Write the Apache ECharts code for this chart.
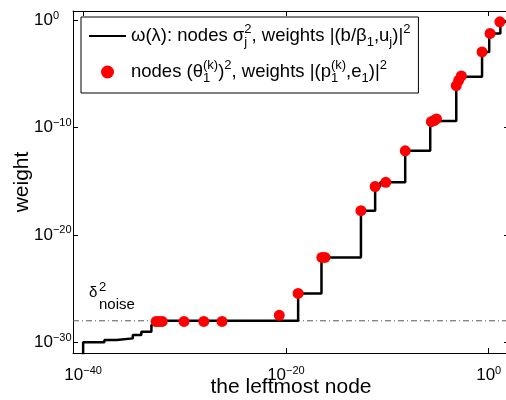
<!DOCTYPE html>
<html>
<head>
<meta charset="utf-8">
<script src="https://cdn.jsdelivr.net/npm/echarts@6/dist/echarts.min.js"></script>
<style>
  html, body { margin: 0; padding: 0; background: #fff; }
  #chart { width: 506px; height: 400px; }
</style>
</head>
<body>
<div id="chart"></div>
<script>
// omega(lambda): step function, nodes and cumulative weights
const stepNodes = [1e-40, 1e-40, 1.26e-38, 2.0e-37, 7.9e-36, 5.5e-35, 5.4e-34, 1.8e-33,
  1.6e-19, 3.2e-17, 2.5e-13, 6.3e-12, 2.0e-11, 5.8e-9, 1.7e-6, 6.3e-4, 0.22, 1.12, 14.1, 100];
const stepWeights = [1e-32, 1e-30, 1.6e-30, 2.3e-30, 4.7e-30, 9.5e-30, 4.0e-29, 1e-28,
  3.5e-26, 7.9e-23, 1.8e-18, 3.2e-16, 7.9e-16, 6.8e-13, 4.0e-10, 5.2e-6, 1.1e-3, 5.8e-2, 0.7, 0.7];

// Ritz nodes (theta_1^(k))^2 and their weights
const ritzNodes = [1.6e-33, 3.2e-33, 6.3e-33, 8.9e-31, 7.9e-29, 5.0e-27, 2.2e-21, 1.6e-19,
  3.5e-17, 7.1e-17, 2.5e-13, 6.3e-12, 7.1e-11, 5.8e-9, 2.2e-6, 4.0e-6, 7.1e-6,
  6.3e-4, 1.1e-3, 2.0e-3, 0.22, 1.35, 12.6];
const ritzWeights = [8.7e-29, 8.7e-29, 8.7e-29, 8.7e-29, 8.7e-29, 8.7e-29, 3.2e-28, 3.5e-26,
  7.9e-23, 7.9e-23, 1.8e-18, 3.2e-16, 7.9e-16, 6.8e-13, 3.5e-10, 4.5e-10, 6.3e-10,
  7.9e-7, 2.5e-6, 6.3e-6, 1.1e-3, 5.8e-2, 0.7];

// delta^2_noise level, drawn across the whole x range
const noiseLevel = 1e-28;
const xRange = [1e-41, 1e2];
const yRange = [1e-31, Math.pow(10, 0.85)];
const xTicks = [1e-40, 1e-20, 1];
const yTicks = [1e-30, 1e-20, 1e-10, 1];

const font = 'Liberation Sans';

function powLabel(v) {
  const e = Math.round(Math.log10(v));
  return '10{s|' + (e < 0 ? '\u2212' + (-e) : e) + '}';
}

const tickRich = {
  s: { fontSize: 11, fontFamily: font, color: '#000', verticalAlign: 'top', lineHeight: 11 }
};

const legendRich = {
  sup: { fontSize: 13, fontFamily: font, color: '#000', lineHeight: 12, verticalAlign: 'top' },
  sub: { fontSize: 13, fontFamily: font, color: '#000', lineHeight: 12, verticalAlign: 'bottom' },
  sub0: { fontSize: 13, fontFamily: font, color: '#000', lineHeight: 12, verticalAlign: 'bottom', width: 0 }
};

const names = {
  omega: '\u03c9(\u03bb): nodes \u03c3{sub0|j}{sup|2}, weights |(b/\u03b2{sub|1},u{sub|j})|{sup|2}',
  ritz: 'nodes (\u03b8{sub0|1}{sup|(k)}){sup|2}, weights |(p{sub0|1}{sup|(k)},e{sub|1})|{sup|2}'
};

const chart = echarts.init(document.getElementById('chart'));

function logAxis(pos, range, ticks, withLabels) {
  return {
    type: 'log',
    logBase: 10,
    position: pos,
    min: range[0],
    max: range[1],
    axisLine: { show: true, onZero: false, lineStyle: { color: '#000', width: 1 } },
    axisTick: { show: true, inside: true, length: 5, customValues: ticks, lineStyle: { color: '#000' } },
    axisLabel: withLabels ? {
      show: true,
      customValues: ticks,
      formatter: powLabel,
      fontFamily: font,
      fontSize: 17,
      color: '#000',
      lineHeight: 20,
      rich: tickRich
    } : { show: false },
    splitLine: { show: false },
    minorTick: { show: false }
  };
}

const xBottom = logAxis('bottom', xRange, xTicks, true);
xBottom.name = 'the leftmost node';
xBottom.nameLocation = 'middle';
xBottom.nameGap = 24;
xBottom.nameMoveOverlap = false;
xBottom.nameTextStyle = { fontFamily: font, fontSize: 21, color: '#000' };
xBottom.axisLabel.margin = 12;

const yLeft = logAxis('left', yRange, yTicks, true);
yLeft.name = 'weight';
yLeft.nameLocation = 'middle';
yLeft.nameGap = 40;
yLeft.nameMoveOverlap = false;
yLeft.nameTextStyle = { fontFamily: font, fontSize: 21, color: '#000' };
yLeft.axisLabel.margin = 39;
yLeft.axisLabel.align = 'left';

chart.setOption({
  animation: false,
  backgroundColor: '#fff',
  grid: { left: 73, right: -3, top: 11, bottom: 47, containLabel: false, outerBoundsMode: 'none' },
  xAxis: [xBottom, logAxis('top', xRange, xTicks, false)],
  yAxis: [yLeft, logAxis('right', yRange, yTicks, false)],
  legend: {
    orient: 'vertical',
    left: 81,
    top: 17,
    padding: [6, 8, 8, 7],
    itemGap: 10,
    itemWidth: 37,
    itemHeight: 13,
    backgroundColor: '#fff',
    borderColor: '#000',
    borderWidth: 1,
    borderRadius: 0,
    data: [
      { name: 'omega', itemStyle: { color: 'rgba(0,0,0,0)', borderColor: 'rgba(0,0,0,0)', opacity: 0 } },
      { name: 'ritz' }
    ],
    formatter: function (n) { return names[n]; },
    textStyle: { fontFamily: font, fontSize: 18.5, color: '#000', lineHeight: 26, rich: legendRich }
  },
  graphic: [
    { type: 'text', left: 89, top: 285, style: { text: '\u03b4', font: '15px "Liberation Sans"', fill: '#000' } },
    { type: 'text', left: 99, top: 281, style: { text: '2', font: '13px "Liberation Sans"', fill: '#000' } },
    { type: 'text', left: 99, top: 297, style: { text: 'noise', font: '15px "Liberation Sans"', fill: '#000' } }
  ],
  series: [
    {
      name: 'noise',
      type: 'line',
      showSymbol: false,
      symbol: 'none',
      data: [[xRange[0], noiseLevel], [xRange[1], noiseLevel]],
      lineStyle: { color: '#555', width: 1, type: [6, 3, 1, 3] },
      z: 2
    },
    {
      name: 'omega',
      type: 'line',
      step: 'end',
      showSymbol: false,
      symbol: 'none',
      clip: true,
      data: stepNodes.map((x, i) => [x, stepWeights[i]]),
      lineStyle: { color: '#000', width: 2.5 },
      itemStyle: { color: '#000' },
      z: 3
    },
    {
      name: 'ritz',
      type: 'scatter',
      symbol: 'circle',
      symbolSize: 11,
      data: ritzNodes.map((x, i) => [x, ritzWeights[i]]),
      itemStyle: { color: '#ff0000', opacity: 1 },
      z: 4
    }
  ]
});
</script>
</body>
</html>
